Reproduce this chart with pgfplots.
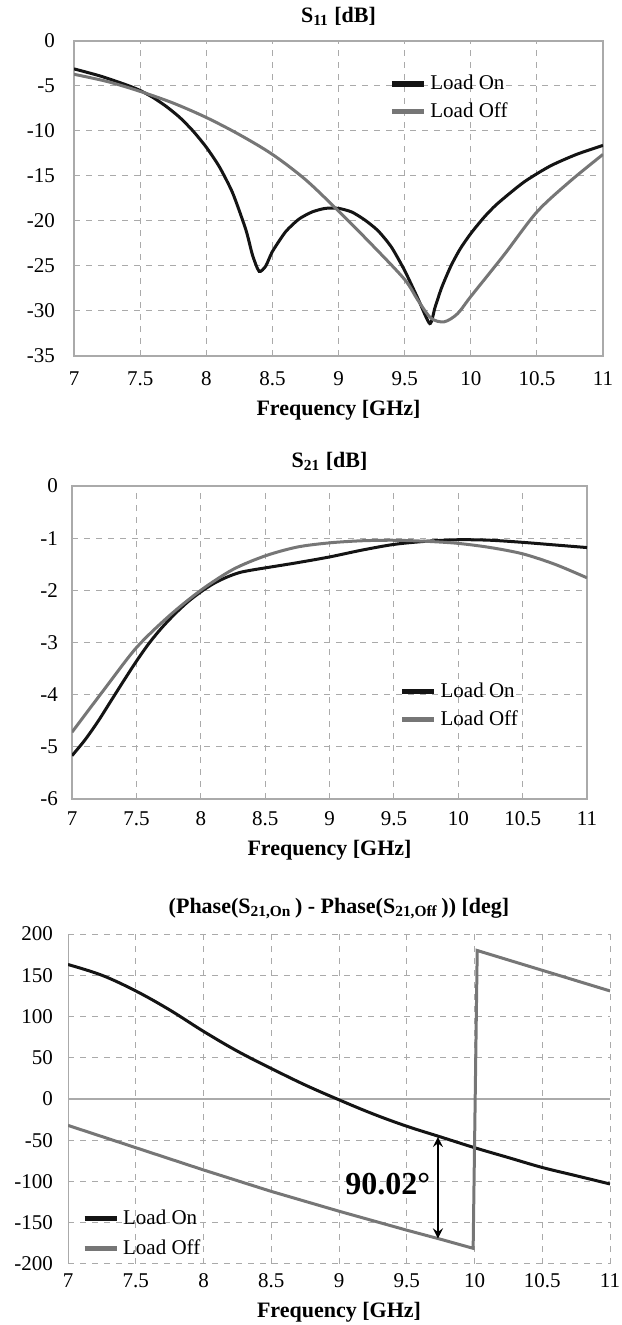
\documentclass[border=0pt]{standalone}
\usepackage{pgfplots}
\pgfplotsset{compat=1.18}
\usepackage{fontspec}
\setmainfont{Liberation Serif}

\definecolor{lon}{RGB}{20,20,20}
\definecolor{loff}{RGB}{118,118,118}
\definecolor{gridc}{RGB}{170,170,170}

\pgfplotsset{
  sparam/.style={
    scale only axis,
    anchor=south west,
    xmin=7, xmax=11,
    xtick={7,7.5,...,11},
    grid=major,
    grid style={dashed, gridc, line width=0.5pt},
    axis line style={gridc, line width=0.7pt},
    major tick length=0pt,
    /pgf/number format/assume math mode=true,
    tick label style={font=\fontsize{10.5}{12}\selectfont},
    xticklabel style={anchor=base},
    title style={font=\bfseries\fontsize{11}{13}\selectfont, yshift=-2pt},
    xlabel style={font=\bfseries\fontsize{11}{13}\selectfont, at={(axis description cs:0.5,0)}, anchor=base},
    xlabel={Frequency [GHz]},
    legend style={draw=none, fill=none, font=\fontsize{10.5}{12}\selectfont,
      anchor=north west, row sep=1pt, inner sep=0pt},
    legend cell align=left,
    legend image code/.code={\draw[#1, line width=2.6pt] (0pt,0pt) -- (16pt,0pt);},
  },
  on/.style={lon, line width=1.5pt, smooth, tension=0.5},
  off/.style={loff, line width=1.5pt, smooth, tension=0.5},
}

\begin{document}
\begin{tikzpicture}
\useasboundingbox (0,0) rectangle (310.5pt,662.5pt);

% S11
\begin{axis}[sparam,
  at={(37pt,484.5pt)}, width=264.5pt, height=157.5pt,
  ymin=-35, ymax=0, ytick={-35,-30,...,0},
  yticklabel style={xshift=-6pt},
  xticklabel style={yshift=-15pt},
  xlabel style={yshift=-30pt},
  title={S\textsubscript{11} [dB]},
  legend style={at={(0.595,0.905)}},
]
\addplot[on, tension=0.4] coordinates {
(7.0,-3.1) (7.2,-3.9) (7.4,-4.9) (7.5,-5.5) (7.6,-6.3) (7.7,-7.3) (7.8,-8.5)
(7.9,-10.0) (8.0,-11.8) (8.1,-14.0) (8.2,-16.9) (8.3,-21.0) (8.35,-23.8) (8.4,-25.6)
(8.45,-25.0) (8.5,-23.4) (8.6,-21.2) (8.7,-19.8) (8.8,-19.0) (8.9,-18.6) (9.0,-18.6)
(9.1,-19.0) (9.2,-19.9) (9.3,-21.1) (9.4,-22.9) (9.5,-25.5) (9.6,-28.6) (9.69,-31.4)
(9.73,-29.6) (9.78,-27.4) (9.85,-25.0) (9.92,-23.1) (10.0,-21.4) (10.1,-19.6)
(10.2,-18.1) (10.4,-15.7) (10.6,-13.9) (10.8,-12.6) (11.0,-11.6)
};
\addlegendentry{Load On}
\addplot[off] coordinates {
(7.0,-3.7) (7.25,-4.5) (7.5,-5.6) (7.75,-6.9) (8.0,-8.5) (8.25,-10.4) (8.5,-12.6)
(8.75,-15.4) (9.0,-18.9) (9.25,-22.6) (9.5,-26.5) (9.6,-28.8) (9.7,-30.8) (9.8,-31.2)
(9.9,-30.3) (10.0,-28.4) (10.25,-23.8) (10.5,-19.0) (10.75,-15.6) (11.0,-12.6)
};
\addlegendentry{Load Off}
\end{axis}

% S21
\begin{axis}[sparam,
  at={(36pt,263pt)}, width=257.5pt, height=156.5pt,
  ymin=-6, ymax=0, ytick={-6,-5,...,0},
  yticklabel style={xshift=-3.5pt},
  xticklabel style={yshift=-13.5pt},
  xlabel style={yshift=-28.5pt},
  title={S\textsubscript{21} [dB]},
  legend style={at={(0.635,0.385)}},
]
\addplot[on] coordinates {
(7.0,-5.17) (7.1,-4.87) (7.2,-4.52) (7.3,-4.13) (7.4,-3.74) (7.5,-3.36) (7.6,-3.01)
(7.7,-2.71) (7.8,-2.45) (7.9,-2.22) (8.0,-2.03) (8.1,-1.87) (8.2,-1.75) (8.3,-1.66)
(8.4,-1.61) (8.5,-1.57) (8.75,-1.47) (9.0,-1.36)
(9.25,-1.23) (9.5,-1.12) (9.75,-1.06) (10.0,-1.03) (10.25,-1.04) (10.5,-1.08)
(10.75,-1.13) (11.0,-1.18)
};
\addlegendentry{Load On}
\addplot[off] coordinates {
(7.0,-4.72) (7.25,-3.9) (7.5,-3.1) (7.75,-2.5) (8.0,-2.0) (8.25,-1.6) (8.5,-1.34)
(8.75,-1.17) (9.0,-1.09) (9.25,-1.05) (9.5,-1.04) (9.75,-1.06) (10.0,-1.1)
(10.25,-1.18) (10.5,-1.3) (10.75,-1.5) (11.0,-1.76)
};
\addlegendentry{Load Off}
\end{axis}

% phase difference
\begin{axis}[sparam,
  at={(34pt,30.5pt)}, width=271pt, height=165pt,
  ymin=-200, ymax=200, ytick={-200,-150,...,200},
  axis line style={draw=none},
  yticklabel style={xshift=-4pt},
  xticklabel style={yshift=-12pt},
  xlabel style={yshift=-26.5pt},
  title style={yshift=0pt},
  title={(Phase(S\textsubscript{21,On}\,) - Phase(S\textsubscript{21,Off}\,)) [deg]},
  legend style={at={(0.025,0.178)}, row sep=2pt},
]
\draw[gridc, line width=0.7pt] (rel axis cs:0,0) -- (rel axis cs:0,1);
\draw[gridc, line width=0.7pt] (axis cs:7,0) -- (axis cs:11,0);
\addplot[on, tension=0.6] coordinates {
(7.0,163) (7.25,150) (7.5,131) (7.75,108) (8.0,82) (8.25,58) (8.5,37) (8.75,17)
(9.0,-1) (9.25,-18) (9.5,-33) (9.75,-46) (10.0,-59) (10.25,-71) (10.5,-83)
(10.75,-93) (11.0,-103)
};
\addlegendentry{Load On}
\addplot[loff, line width=1.5pt] coordinates {
(7.0,-32) (7.5,-59) (8.0,-86) (8.5,-112) (9.0,-136) (9.5,-159) (9.75,-170)
(9.99,-181) (10.02,180) (11.0,131)
};
\addlegendentry{Load Off}
\draw[<->, >=stealth, line width=1.2pt] (axis cs:9.73,-46) -- (axis cs:9.73,-169);
\node[font=\bfseries\fontsize{16}{18}\selectfont] at (axis cs:9.36,-103) {90.02°};
\end{axis}
\end{tikzpicture}
\end{document}
